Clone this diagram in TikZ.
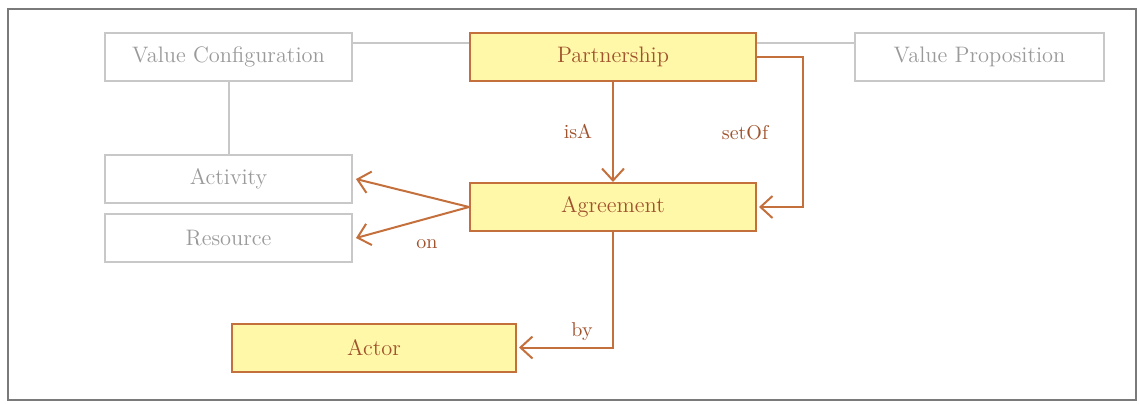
\documentclass[tikz,border=0pt]{standalone}
\usetikzlibrary{arrows.meta}
\definecolor{edge}{HTML}{C4703C}
\definecolor{lbl}{HTML}{A0522D}
\definecolor{boxfill}{HTML}{FFF8A8}
\definecolor{gline}{HTML}{C8C8C8}
\definecolor{gtext}{HTML}{9A9A9A}
\definecolor{frame}{HTML}{7A7A7A}
\begin{document}
\begin{tikzpicture}[x=0.5pt,y=-0.5pt,
  graybox/.style={draw=gline,line width=1pt,fill=white,text=gtext,minimum width=123.5pt,minimum height=24pt,inner sep=0pt,font=\fontsize{11.2}{13}\selectfont},
  ybox/.style={draw=edge,line width=1pt,fill=boxfill,text=lbl,minimum width=143pt,minimum height=24pt,inner sep=0pt,font=\fontsize{11.2}{13}\selectfont},
  gconn/.style={draw=gline,line width=1pt},
  rel/.style={draw=edge,line width=1pt,-{Straight Barb[length=6pt,width=11pt,line width=1pt]}},
  rlabel/.style={text=lbl,font=\fontsize{10}{12}\selectfont,inner sep=0pt}]
\useasboundingbox (0,0) rectangle (1139,403);
\draw[frame,line width=1pt] (8,9) rectangle (1136,400);
% connectors in gray (behind)
\node[graybox] (vc) at (228.5,56.5) {Value Configuration};
\node[graybox,minimum width=124.5pt] (vp) at (979.5,56.5) {Value Proposition};
\node[graybox] (act) at (228.5,179) {Activity};
\node[graybox] (res) at (228.5,238) {Resource};
\node[ybox] (part) at (613,56.5) {Partnership};
\node[ybox] (agr) at (613,207) {Agreement};
\node[ybox,minimum width=142pt] (actor) at (374,347.5) {Actor};
\draw[gconn] (vc.east |- 0,43) -- (part.west |- 0,43);
\draw[gconn] (part.east |- 0,43) -- (vp.west |- 0,43);
\draw[gconn] (vc.south) -- (act.north);
% relations
\draw[rel] (part.south) -- node[rlabel,pos=0.5,xshift=-17.5pt] {isA} (agr.north);
\coordinate (so1) at (803,56.5);
\coordinate (so2) at (803,207);
\draw[rel] (part.east) -- (so1) -- (so2) -- ([xshift=1pt]agr.east);
\node[rlabel] (lso) at (745,133) {setOf};
\draw[rel] (agr.west) -- ([xshift=1.5pt]act.east);
\draw[rel] (agr.west) -- ([xshift=1.5pt]res.east);
\node[rlabel] (lon) at (427,244) {on};
\coordinate (by1) at (613,347.5);
\draw[rel] (agr.south) -- (by1) -- ([xshift=1pt]actor.east);
\node[rlabel] (lby) at (582,332) {by};
\end{tikzpicture}
\end{document}
